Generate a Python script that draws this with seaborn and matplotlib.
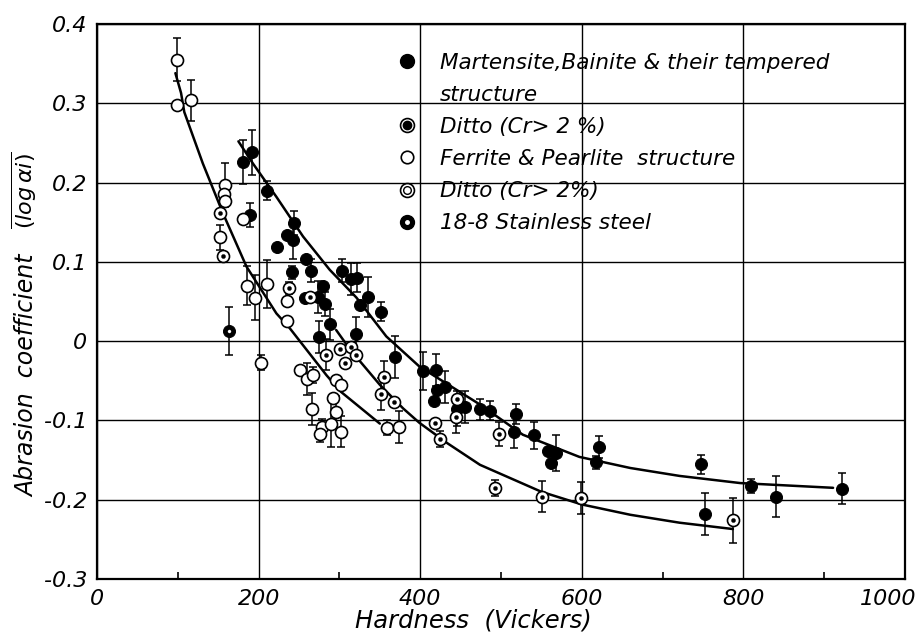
import numpy as np
import pandas as pd
import matplotlib
matplotlib.use("Agg")
import matplotlib.pyplot as plt
import seaborn as sns
from matplotlib.lines import Line2D
from matplotlib.ticker import MultipleLocator
from matplotlib.transforms import ScaledTranslation

# Martensite, Bainite & their tempered structure (filled)
mart_h = [181, 192, 211, 189, 244, 235, 242, 223, 259, 265, 241, 303, 314, 322, 280, 258,
          273, 282, 335, 326, 352, 288, 275, 321, 369, 403, 419, 431, 421, 417, 445, 455,
          474, 487, 518, 516, 541, 558, 568, 562, 621, 617, 747, 752, 809, 840, 922]
mart_v = [0.226, 0.238, 0.190, 0.159, 0.149, 0.134, 0.128, 0.119, 0.103, 0.089, 0.087,
          0.089, 0.078, 0.080, 0.069, 0.054, 0.056, 0.047, 0.056, 0.045, 0.037, 0.021,
          0.005, 0.009, -0.020, -0.038, -0.036, -0.058, -0.062, -0.076, -0.085, -0.083,
          -0.086, -0.088, -0.092, -0.115, -0.119, -0.139, -0.141, -0.154, -0.134, -0.153,
          -0.155, -0.218, -0.183, -0.196, -0.186]
mart_err = [0.028, 0.028, 0.012, 0.015, 0.015, 0.0, 0.025, 0.0, 0.0, 0.015, 0.008,
            0.015, 0.02, 0.018, 0.0, 0.0, 0.02, 0.015, 0.025, 0.0, 0.012, 0.02,
            0.02, 0.022, 0.027, 0.024, 0.02, 0.02, 0.0, 0.0, 0.022, 0.02,
            0.013, 0.012, 0.013, 0.02, 0.017, 0.0, 0.023, 0.0, 0.014, 0.008,
            0.012, 0.026, 0.009, 0.026, 0.020]

# Ferrite & Pearlite structure (open)
fer_h = [99, 99, 116, 159, 157, 158, 152, 181, 186, 196, 210, 235.5, 235.5, 202.5,
         251, 260, 267, 296, 302, 292, 296, 266.5, 279, 276.4, 290, 301.5, 359, 373.5]
fer_v = [0.355, 0.298, 0.304, 0.197, 0.186, 0.177, 0.131, 0.154, 0.070, 0.055, 0.072,
         0.051, 0.025, -0.027, -0.037, -0.048, -0.043, -0.049, -0.055, -0.072, -0.089,
         -0.086, -0.108, -0.117, -0.104, -0.114, -0.109, -0.108]
fer_err = [0.027, 0.0, 0.026, 0.028, 0.0, 0.0, 0.016, 0.0, 0.025, 0.028, 0.03,
           0.0, 0.0, 0.01, 0.0, 0.02, 0.01, 0.0, 0.0, 0.0, 0.02,
           0.02, 0.01, 0.01, 0.03, 0.02, 0.01, 0.02]

# Ferrite & Pearlite, Cr > 2 % (circle with dot)
fcr_h = [152.5, 156, 237, 263, 301, 314, 321, 306.5, 283, 355, 352, 368, 445, 444,
         418, 424, 497.6, 492, 551, 599.6, 786.6]
fcr_v = [0.161, 0.108, 0.067, 0.056, -0.010, -0.008, -0.017, -0.028, -0.017, -0.045,
         -0.067, -0.077, -0.073, -0.096, -0.103, -0.123, -0.117, -0.185, -0.196,
         -0.198, -0.226]
fcr_err = [0.0, 0.0, 0.008, 0.0, 0.0, 0.0, 0.0, 0.0, 0.02, 0.02, 0.02, 0.0, 0.0,
           0.02, 0.0, 0.01, 0.015, 0.01, 0.02, 0.02, 0.028]

# 18-8 Stainless steel
st_h = [163]
st_v = [0.013]
st_err = [0.03]

# fitted curves
up_h = [175, 193, 222, 255, 288, 321, 358, 399, 474, 527, 597, 660, 721, 796, 911]
up_v = [0.252, 0.224, 0.182, 0.132, 0.090, 0.055, 0.006, -0.032, -0.080, -0.118,
        -0.146, -0.160, -0.170, -0.179, -0.185]
ferc_h = [97, 104, 108, 131, 156, 185, 222, 238, 284, 302, 350]
ferc_v = [0.338, 0.313, 0.289, 0.224, 0.161, 0.094, 0.035, 0.017, -0.043, -0.064, -0.104]
crc_h = [296, 306.5, 321, 350, 379, 399, 434, 474, 550, 600, 660, 721, 787]
crc_v = [0.014, -0.001, -0.020, -0.055, -0.085, -0.103, -0.129, -0.156, -0.190,
         -0.206, -0.219, -0.229, -0.237]

x_ticks = [0, 200, 400, 600, 800, 1000]
y_ticks = [-0.3, -0.2, -0.1, 0, 0.1, 0.2, 0.3, 0.4]
y_labels = ["-0.3", "-0.2", "-0.1", "0", "0.1", "0.2", "0.3", "0.4"]

df = pd.concat([
    pd.DataFrame({"h": mart_h, "v": mart_v, "err": mart_err, "grp": "mart"}),
    pd.DataFrame({"h": fer_h, "v": fer_v, "err": fer_err, "grp": "fer"}),
    pd.DataFrame({"h": fcr_h, "v": fcr_v, "err": fcr_err, "grp": "fcr"}),
    pd.DataFrame({"h": st_h, "v": st_v, "err": st_err, "grp": "st"}),
], ignore_index=True)

sns.set_style("white")
plt.rcParams['font.family'] = ['DejaVu Sans']
plt.rcParams.update({"text.color": "black", "axes.labelcolor": "black",
                     "xtick.color": "black", "ytick.color": "black"})

fig = plt.figure(figsize=(9.17, 6.35), dpi=100)
ax = fig.add_axes([0.1058, 0.0882, 0.8811, 0.874])

ax.set_xlim(0, 1000)
ax.set_ylim(-0.3, 0.4)
ax.set_xticks(x_ticks)
ax.set_yticks(y_ticks)
ax.set_yticklabels(y_labels)
ax.xaxis.set_minor_locator(MultipleLocator(100))
ax.grid(True, which="major", color="black", linewidth=1.0)
ax.tick_params(which="major", length=0, labelsize=16, pad=7)
ax.tick_params(which="minor", axis="x", direction="in", length=5, width=1.2, bottom=True)
for lab in ax.get_xticklabels() + ax.get_yticklabels():
    lab.set_style("italic")
last = ax.get_xticklabels()[-1]
last.set_transform(last.get_transform() + ScaledTranslation(-0.17, 0, fig.dpi_scale_trans))
for s in ax.spines.values():
    s.set_linewidth(1.6)
    s.set_color("black")

# error bars
eb = df[df["err"] > 0]
ax.errorbar(eb["h"], eb["v"], yerr=eb["err"], fmt="none", ecolor="black",
            elinewidth=1.1, capsize=3, capthick=1.1, zorder=2)

# curves
for ch, cv in [(up_h, up_v), (ferc_h, ferc_v), (crc_h, crc_v)]:
    sns.lineplot(x=ch, y=cv, color="black", linewidth=1.8, sort=False,
                 estimator=None, ax=ax, zorder=3)

# points
sns.scatterplot(data=df[df.grp == "mart"], x="h", y="v", color="black", s=75,
                edgecolor="black", ax=ax, zorder=4)
sns.scatterplot(data=df[df.grp == "fer"], x="h", y="v", color="white", s=75,
                edgecolor="black", linewidth=1.2, ax=ax, zorder=4)
sns.scatterplot(data=df[df.grp == "fcr"], x="h", y="v", color="white", s=75,
                edgecolor="black", linewidth=1.2, ax=ax, zorder=4)
sns.scatterplot(data=df[df.grp == "fcr"], x="h", y="v", color="black", s=9,
                edgecolor="black", ax=ax, zorder=5)
sns.scatterplot(data=df[df.grp == "st"], x="h", y="v", color="black", s=75,
                edgecolor="black", ax=ax, zorder=4)
sns.scatterplot(data=df[df.grp == "st"], x="h", y="v", color="white", s=5,
                edgecolor="white", ax=ax, zorder=5)

# legend
def mk(**kw):
    return Line2D([], [], marker="o", ls="none", **kw)

handles = [
    mk(mfc="black", mec="black", ms=10),
    Line2D([], [], ls="none"),
    (mk(mfc="white", mec="black", ms=10, mew=1.2), mk(mfc="black", mec="black", ms=6)),
    mk(mfc="white", mec="black", ms=9, mew=1.2),
    (mk(mfc="white", mec="black", ms=10, mew=1.2), mk(mfc="white", mec="black", ms=5.5, mew=1.0)),
    (mk(mfc="black", mec="black", ms=10), mk(mfc="white", mec="white", ms=2.5)),
]
labels = [
    "Martensite,Bainite & their tempered",
    "structure",
    "Ditto (Cr> 2 %)",
    "Ferrite & Pearlite  structure",
    "Ditto (Cr> 2%)",
    "18-8 Stainless steel",
]
leg = ax.legend(handles, labels, loc="upper left", bbox_to_anchor=(0.368, 0.948),
                frameon=False, prop={"size": 15.5, "style": "italic"},
                handlelength=1.2, handletextpad=0.9, labelspacing=0.56,
                borderaxespad=0, borderpad=0)

ax.set_xlabel("")
ax.set_ylabel("")
fig.text(0.516, 0.004, "Hardness  (Vickers)", fontsize=17.5, style="italic",
         ha="center", va="bottom")
fig.text(0.030, 0.409, "Abrasion  coefficient", rotation=90, ha="center",
         va="center", fontsize=17, style="italic")
fig.text(0.027, 0.700, r"$\overline{(\mathit{log}\,\alpha i)}$", rotation=90,
         ha="center", va="center", fontsize=16)

fig.savefig("out.png", dpi=100)
